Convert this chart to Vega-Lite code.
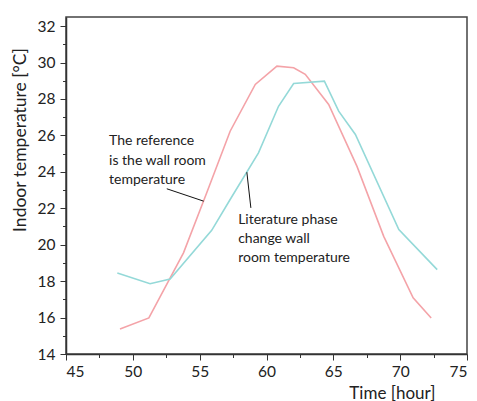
{
  "$schema": "https://vega.github.io/schema/vega-lite/v6.json",
  "width": 401,
  "height": 337,
  "autosize": "none",
  "padding": {"left": 66, "top": 17, "right": 10, "bottom": 47},
  "background": "white",
  "config": {
    "font": "Lato",
    "view": {"stroke": "#444444", "strokeWidth": 1.5},
    "axis": {"grid": false, "domainColor": "#333333", "domainWidth": 1.5, "tickColor": "#333333", "tickWidth": 1, "labelColor": "#222222", "titleColor": "#222222", "labelFont": "Lato", "titleFont": "Lato", "labelFontSize": 15.5, "titleFontSize": 17, "titleFontWeight": "normal"}
  },
  "datasets": {
    "series": [
      {"series": "ref", "t": 49.04, "T": 15.37},
      {"series": "ref", "t": 51.2, "T": 15.98},
      {"series": "ref", "t": 53.79, "T": 19.55},
      {"series": "ref", "t": 55.5, "T": 22.8},
      {"series": "ref", "t": 57.28, "T": 26.23},
      {"series": "ref", "t": 59.16, "T": 28.8},
      {"series": "ref", "t": 60.78, "T": 29.8},
      {"series": "ref", "t": 62.03, "T": 29.71},
      {"series": "ref", "t": 62.9, "T": 29.35},
      {"series": "ref", "t": 64.65, "T": 27.7},
      {"series": "ref", "t": 66.77, "T": 24.3},
      {"series": "ref", "t": 68.77, "T": 20.46},
      {"series": "ref", "t": 70.97, "T": 17.08},
      {"series": "ref", "t": 72.32, "T": 15.98},
      {"series": "lit", "t": 48.84, "T": 18.45},
      {"series": "lit", "t": 51.29, "T": 17.86},
      {"series": "lit", "t": 52.79, "T": 18.12},
      {"series": "lit", "t": 55.9, "T": 20.79},
      {"series": "lit", "t": 57.28, "T": 22.48},
      {"series": "lit", "t": 59.4, "T": 25.04},
      {"series": "lit", "t": 60.9, "T": 27.6},
      {"series": "lit", "t": 62.03, "T": 28.85},
      {"series": "lit", "t": 64.33, "T": 28.98},
      {"series": "lit", "t": 65.4, "T": 27.33},
      {"series": "lit", "t": 66.65, "T": 26.05},
      {"series": "lit", "t": 69.9, "T": 20.83},
      {"series": "lit", "t": 72.77, "T": 18.63}
    ],
    "leaders": [
      {"id": "a", "t": 52.54, "T": 23.07},
      {"id": "a", "t": 55.3, "T": 22.39},
      {"id": "b", "t": 58.53, "T": 23.98},
      {"id": "b", "t": 58.83, "T": 22.02}
    ],
    "labels": [
      {"t": 48.22, "T": 25.68, "text": "The reference"},
      {"t": 48.22, "T": 24.62, "text": "is the wall room"},
      {"t": 48.22, "T": 23.56, "text": "temperature"},
      {"t": 57.88, "T": 21.38, "text": "Literature phase"},
      {"t": 57.88, "T": 20.32, "text": "change wall"},
      {"t": 57.88, "T": 19.26, "text": "room temperature"}
    ],
    "minor": [{"t": 47.5, "T": 15}]
  },
  "resolve": {"axis": {"x": "independent", "y": "independent"}},
  "layer": [
    {
      "data": {"name": "minor"},
      "mark": {"type": "point", "opacity": 0},
      "encoding": {
        "x": {"field": "t", "type": "quantitative", "scale": {"domain": [45, 75], "nice": false, "zero": false},
          "axis": {"orient": "bottom", "values": [47.5, 52.5, 57.5, 62.5, 67.5, 72.5], "labels": false, "domain": false, "tickSize": 3.5, "title": null}},
        "y": {"field": "T", "type": "quantitative", "scale": {"domain": [14, 32.5], "nice": false, "zero": false},
          "axis": {"orient": "left", "values": [15, 17, 19, 21, 23, 25, 27, 29, 31], "labels": false, "domain": false, "tickSize": 3.5, "title": null}}
      }
    },
    {
      "data": {"name": "series"},
      "mark": {"type": "line", "strokeWidth": 1.6},
      "encoding": {
        "x": {"field": "t", "type": "quantitative", "scale": {"domain": [45, 75], "nice": false, "zero": false},
          "axis": {"orient": "bottom", "values": [45, 50, 55, 60, 65, 70, 75], "tickSize": 6, "labelPadding": 4, "title": "Time [hour]", "titleAnchor": "start", "titleAlign": "right", "titleX": 369, "titleY": 44, "titleBaseline": "alphabetic"}},
        "y": {"field": "T", "type": "quantitative", "scale": {"domain": [14, 32.5], "nice": false, "zero": false},
          "axis": {"orient": "left", "values": [14, 16, 18, 20, 22, 24, 26, 28, 30, 32], "tickSize": 6, "labelPadding": 5, "title": "Indoor temperature [°C]", "titleFontSize": 17.5, "titleAngle": -90, "titleAlign": "center", "titleX": -41, "titleY": 122.5, "titleBaseline": "alphabetic"}},
        "color": {"field": "series", "type": "nominal", "scale": {"domain": ["ref", "lit"], "range": ["#f4a3a8", "#94d9d8"]}, "legend": null},
        "order": {"field": "t", "type": "quantitative"}
      }
    },
    {
      "data": {"name": "leaders"},
      "mark": {"type": "line", "color": "#111111", "strokeWidth": 1},
      "encoding": {
        "x": {"field": "t", "type": "quantitative", "axis": null},
        "y": {"field": "T", "type": "quantitative", "axis": null},
        "detail": {"field": "id"}
      }
    },
    {
      "data": {"name": "labels"},
      "mark": {"type": "text", "align": "left", "baseline": "middle", "fontSize": 14, "font": "Lato", "color": "#222222"},
      "encoding": {
        "x": {"field": "t", "type": "quantitative", "axis": null},
        "y": {"field": "T", "type": "quantitative", "axis": null},
        "text": {"field": "text"}
      }
    }
  ]
}
